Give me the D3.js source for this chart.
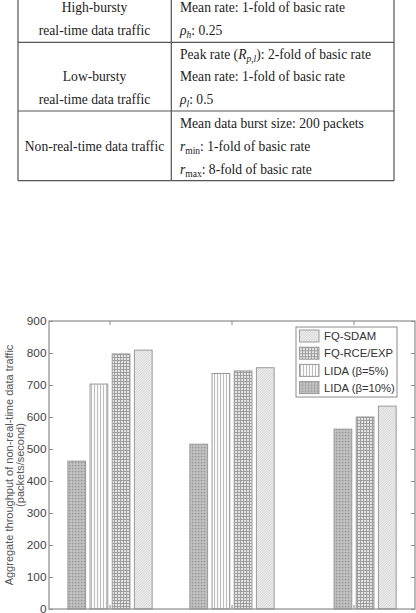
<!DOCTYPE html>
<html>
<head>
<meta charset="utf-8">
<style>
  body { margin: 0; background: #fff; }
  svg { display: block; }
  .tbl text { font-family: "Liberation Serif", "DejaVu Serif", serif; font-size: 13.6px; fill: #222; }
  .chart text { font-family: "Liberation Sans", Arial, sans-serif; }
</style>
</head>
<body>
<svg id="page" width="416" height="613"></svg>
<script src="https://d3js.org/d3.v7.min.js"></script>
<script>
// ---- data ----
var groups = ['Case 1', 'Case 2', 'Case 3']
var seriesNames = ['FQ-SDAM', 'FQ-RCE/EXP', 'LIDA (\u03b2=5%)', 'LIDA (\u03b2=10%)']
var sdam   = [809, 754, 634]
var rceExp = [797, 744, 600]
var lida5  = [703, 736, null]
var lida10 = [462, 515, 562]
var yTicks = [0, 100, 200, 300, 400, 500, 600, 700, 800, 900]

// bars are drawn left to right in this order
var barOrder = [
  {name: seriesNames[3], values: lida10, fill: 'url(#pDots)'},
  {name: seriesNames[2], values: lida5,  fill: 'url(#pVert)'},
  {name: seriesNames[1], values: rceExp, fill: 'url(#pGrid)'},
  {name: seriesNames[0], values: sdam,   fill: 'url(#pDiag)'}
]
var legendFill = ['url(#pDiag)', 'url(#pGrid)', 'url(#pVert)', 'url(#pDots)']

var svg = d3.select('#page')

// ---- patterns ----
var defs = svg.append('defs')
var pd = defs.append('pattern').attr('id', 'pDiag').attr('width', 2.5).attr('height', 2.5)
  .attr('patternUnits', 'userSpaceOnUse')
pd.append('rect').attr('width', 2.5).attr('height', 2.5).attr('fill', '#eeeeee')
pd.append('path').attr('d', 'M0,2.5 L2.5,0 M-1,1 L1,-1 M1.5,3.5 L3.5,1.5').attr('stroke', '#cdcdcd').attr('stroke-width', 0.8)

var pg = defs.append('pattern').attr('id', 'pGrid').attr('width', 3).attr('height', 3)
  .attr('patternUnits', 'userSpaceOnUse')
pg.append('rect').attr('width', 3).attr('height', 3).attr('fill', '#e4e4e4')
pg.append('path').attr('d', 'M0,0.5 H3 M0.5,0 V3').attr('stroke', '#9a9a9a').attr('stroke-width', 0.9)

var pv = defs.append('pattern').attr('id', 'pVert').attr('width', 3).attr('height', 3)
  .attr('patternUnits', 'userSpaceOnUse')
pv.append('rect').attr('width', 3).attr('height', 3).attr('fill', '#fafafa')
pv.append('path').attr('d', 'M1.5,0 V3').attr('stroke', '#bdbdbd').attr('stroke-width', 1)

var pt = defs.append('pattern').attr('id', 'pDots').attr('width', 3).attr('height', 3)
  .attr('patternUnits', 'userSpaceOnUse')
pt.append('rect').attr('width', 3).attr('height', 3).attr('fill', '#b8b8b8')
pt.append('rect').attr('x', 0).attr('y', 0).attr('width', 1.2).attr('height', 1.2).attr('fill', '#959595')
pt.append('rect').attr('x', 1.5).attr('y', 1.5).attr('width', 1.2).attr('height', 1.2).attr('fill', '#d2d2d2')

// ---- table ----
var tbl = svg.append('g').attr('class', 'tbl')
var colX = [18, 171.3, 394], rowY = [42.3, 111, 180.7]
tbl.selectAll('.v').data(colX).enter().append('line')
  .attr('x1', d => d).attr('x2', d => d).attr('y1', -2).attr('y2', rowY[2])
  .attr('stroke', '#555').attr('stroke-width', 1.2)
tbl.selectAll('.h').data(rowY).enter().append('line')
  .attr('x1', colX[0]).attr('x2', colX[2]).attr('y1', d => d).attr('y2', d => d)
  .attr('stroke', '#555').attr('stroke-width', 1.2)

var leftCells = [
  ['High-bursty', 11.5], ['real-time data traffic', 35],
  ['Low-bursty', 81], ['real-time data traffic', 104],
  ['Non-real-time data traffic', 151]
]
tbl.selectAll('.lc').data(leftCells).enter().append('text')
  .attr('x', 94.5).attr('y', d => d[1]).attr('text-anchor', 'middle').text(d => d[0])

// right cells: list of [pieces, baseline]; piece = [text, style]
var rightCells = [
  [[['Mean rate: 1-fold of basic rate', '']], 11.5],
  [[['\u03c1', 'i'], ['h', 'si'], [': 0.25', '']], 35],
  [[['Peak rate (', ''], ['R', 'i'], ['p,l', 'si'], ['): 2-fold of basic rate', '']], 58.5],
  [[['Mean rate: 1-fold of basic rate', '']], 81],
  [[['\u03c1', 'i'], ['l', 'si'], [': 0.5', '']], 104],
  [[['Mean data burst size: 200 packets', '']], 128],
  [[['r', 'i'], ['min', 's'], [': 1-fold of basic rate', '']], 151],
  [[['r', 'i'], ['max', 's'], [': 8-fold of basic rate', '']], 174]
]
rightCells.forEach(function (row) {
  var t = tbl.append('text').attr('x', 180).attr('y', row[1])
  var isSub = false
  row[0].forEach(function (p) {
    var s = t.append('tspan').text(p[0])
    if (p[1].indexOf('i') >= 0) s.attr('font-style', 'italic')
    if (p[1].indexOf('s') >= 0) { s.attr('font-size', '9.5px').attr('dy', 3); isSub = true }
    else if (isSub) { s.attr('dy', -3); isSub = false }
  })
})

// ---- chart ----
var chart = svg.append('g').attr('class', 'chart')
var pLeft = 49, pRight = 415, pTop = 321, pBottom = 609

var x = d3.scaleBand().domain(groups).range([pLeft, pRight]).padding(0)
var y = d3.scaleLinear().domain([0, 900]).range([pBottom, pTop])
var nSlots = barOrder.length
var groupW = x.bandwidth() * nSlots / (nSlots + 1.5)
var slot = d3.scaleBand().domain(d3.range(nSlots)).range([0, groupW]).paddingInner(0.2).paddingOuter(0.1)

// bars: present bars of each group are packed to the right slots
var bars = []
groups.forEach(function (g, gi) {
  var present = barOrder.filter(s => s.values[gi] != null)
  present.forEach(function (s, k) {
    bars.push({group: g, slot: k + (nSlots - present.length), value: s.values[gi], fill: s.fill})
  })
})

chart.selectAll('.bar').data(bars).enter().append('rect')
  .attr('x', d => x(d.group) + (x.bandwidth() - groupW) / 2 + slot(d.slot))
  .attr('width', slot.bandwidth())
  .attr('y', d => y(d.value))
  .attr('height', d => y(0) - y(d.value))
  .attr('fill', d => d.fill)
  .attr('stroke', '#9a9a9a').attr('stroke-width', 1)

// frame
chart.append('rect').attr('x', pLeft).attr('y', pTop).attr('width', pRight - pLeft).attr('height', pBottom - pTop)
  .attr('fill', 'none').attr('stroke', '#8c8c8c').attr('stroke-width', 1.2)

// axes
var gL = chart.append('g').attr('transform', 'translate(' + pLeft + ',0)')
  .call(d3.axisLeft(y).tickValues(yTicks).tickSize(-4).tickPadding(2.5))
var gR = chart.append('g').attr('transform', 'translate(' + pRight + ',0)')
  .call(d3.axisRight(y).tickValues(yTicks).tickSize(-4).tickFormat(''))
var gT = chart.append('g').attr('transform', 'translate(0,' + pTop + ')')
  .call(d3.axisTop(x).tickSize(-4).tickFormat(''))
var gB = chart.append('g').attr('transform', 'translate(0,' + pBottom + ')')
  .call(d3.axisBottom(x).tickSize(-4).tickFormat(''))
;[gL, gR, gT, gB].forEach(function (g) {
  g.select('.domain').remove()
  g.selectAll('line').attr('stroke', '#8c8c8c')
})
gL.selectAll('text').attr('font-size', '11.8px').attr('fill', '#444')
  .attr('font-family', '"Liberation Sans", Arial, sans-serif')

// y label
var midY = (pTop + pBottom) / 2
chart.append('text').attr('transform', 'translate(12.5,' + midY + ') rotate(-90)')
  .attr('text-anchor', 'middle').attr('font-size', '11px').attr('fill', '#555')
  .text('Aggregate throughput of non-real-time data traffic')
chart.append('text').attr('transform', 'translate(24,' + midY + ') rotate(-90)')
  .attr('text-anchor', 'middle').attr('font-size', '11px').attr('fill', '#555')
  .text('(packets/second)')

// legend
var lg = chart.append('g').attr('transform', 'translate(296,327)')
lg.append('rect').attr('width', 101).attr('height', 70).attr('fill', '#fff')
  .attr('stroke', '#8c8c8c').attr('stroke-width', 1)
var item = lg.selectAll('.li').data(seriesNames).enter().append('g')
  .attr('transform', (d, i) => 'translate(0,' + (9 + i * 17.2) + ')')
item.append('rect').attr('x', 3.5).attr('y', -6).attr('width', 19.5).attr('height', 12)
  .attr('fill', (d, i) => legendFill[i]).attr('stroke', '#9a9a9a').attr('stroke-width', 1)
item.append('text').attr('x', 28).attr('y', 4.2).attr('font-size', '11.3px').attr('fill', '#333').text(d => d)
</script>
</body>
</html>
